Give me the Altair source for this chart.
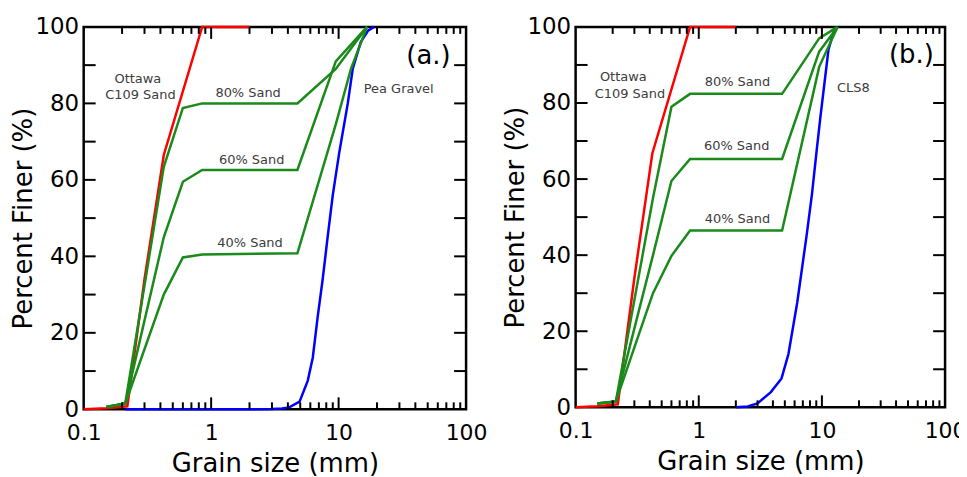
import altair as alt
import pandas as pd

# ---------------- Panel (a.) data ----------------
a_red_d = [0.1, 0.15, 0.22, 0.3, 0.425, 0.85, 2.0]
a_red_p = [0, 0.3, 0.8, 34, 66.5, 100, 100]

a_blue_d = [0.212, 2.0, 3.0, 3.6, 4.1, 4.94, 5.73, 6.27, 6.84, 7.5, 8.2, 9.0, 10.1, 11.8, 12.9, 14.9, 17.0, 19.0]
a_blue_p = [0, 0, 0.05, 0.2, 0.5, 2, 7.5, 13.5, 24, 34, 45, 56, 67, 80, 89, 96, 99, 100]

a_s80_d = [0.15, 0.212, 0.425, 0.6, 0.85, 4.75, 9.5, 16.7]
a_s80_p = [0.6, 1.5, 63.4, 78.8, 80, 80, 89, 100]
a_s60_d = [0.15, 0.212, 0.425, 0.6, 0.85, 4.75, 9.5, 16.7]
a_s60_p = [0.6, 1.5, 45, 59.5, 62.6, 62.6, 91, 100]
a_s40_d = [0.15, 0.212, 0.425, 0.6, 0.85, 4.75, 9.5, 12.5, 16.7]
a_s40_p = [0.6, 1.5, 30, 39.7, 40.5, 40.8, 74.5, 89, 100]

a_label_text = ["Ottawa", "C109 Sand", "80% Sand", "60% Sand", "40% Sand", "Pea Gravel"]
a_label_d = [0.266, 0.279, 1.95, 2.08, 2.02, 29.6]
a_label_p = [86.5, 82.2, 82.6, 65.1, 43.4, 83.8]
a_tag = "(a.)"

# ---------------- Panel (b.) data ----------------
b_red_d = [0.1, 0.15, 0.22, 0.3, 0.42, 0.85, 2.0]
b_red_p = [0, 0.3, 0.8, 34, 66.8, 100, 100]

b_blue_d = [2.0, 2.5, 3.0, 3.85, 4.7, 5.35, 6.3, 7.5, 8.3, 9.1, 9.7, 11.3, 12.8]
b_blue_p = [0, 0.2, 1, 4, 7.6, 14, 27.5, 45, 56, 68, 76, 94, 100]

b_s80_d = [0.15, 0.212, 0.425, 0.6, 0.85, 4.75, 9.5, 13.4]
b_s80_p = [1.0, 1.5, 55, 79, 82.4, 82.4, 97, 100]
b_s60_d = [0.15, 0.212, 0.425, 0.6, 0.85, 4.75, 9.5, 13.4]
b_s60_p = [1.0, 1.5, 40, 59.5, 65.3, 65.3, 93.5, 100]
b_s40_d = [0.15, 0.212, 0.425, 0.6, 0.85, 4.75, 9.5, 13.4]
b_s40_p = [1.0, 1.5, 30, 39.8, 46.5, 46.5, 89.5, 100]

b_label_text = ["Ottawa", "C109 Sand", "80% Sand", "60% Sand", "40% Sand", "CLS8"]
b_label_d = [0.244, 0.276, 2.06, 2.03, 2.06, 18.0]
b_label_p = [86.7, 82.3, 85.6, 68.6, 49.6, 83.9]
b_tag = "(b.)"

# ---------------- axis ticks ----------------
x_major_ticks = [1, 10]
x_minor_ticks = [0.2, 0.3, 0.4, 0.5, 0.6, 0.7, 0.8, 0.9,
                 2, 3, 4, 5, 6, 7, 8, 9,
                 20, 30, 40, 50, 60, 70, 80, 90]
y_ticks = [10, 20, 30, 40, 50, 60, 70, 80, 90]
x_label_values = [0.1, 1, 10, 100]
y_label_values = [0, 20, 40, 60, 80, 100]

RED = "#ff0000"
BLUE = "#0000ff"
GREEN = "#1a8a1a"
FONT = "DejaVu Sans"


def series_df(d, p, name):
    return pd.DataFrame({"d": d, "p": p, "series": name, "i": list(range(len(d)))})


X_AXIS = alt.Axis(values=x_label_values, format="~g", title="Grain size (mm)",
                  grid=False, ticks=False, tickSize=0, domain=False, labelFlush=False,
                  labelFontSize=22, labelPadding=13, labelColor="black", labelFont=FONT,
                  titleFontSize=26, titleFontWeight="normal", titleFont=FONT,
                  titleColor="black", titleY=54, titleBaseline="middle")
Y_AXIS = alt.Axis(values=y_label_values, title="Percent Finer (%)",
                  grid=False, ticks=False, tickSize=0, domain=False,
                  labelFontSize=23, labelPadding=5, labelColor="black", labelFont=FONT,
                  titleFontSize=26, titleFontWeight="normal", titleFont=FONT,
                  titleColor="black", titleX=-60, titleBaseline="middle")
XS = alt.Scale(type="log", domain=[0.1, 100], nice=False)
YS = alt.Scale(domain=[0, 100], nice=False)


def X():
    return alt.X("d:Q", scale=XS, axis=X_AXIS)


def Y():
    return alt.Y("p:Q", scale=YS, axis=Y_AXIS)


def panel(red, blue, greens, labels, tag, W, H):
    blue_layer = alt.Chart(blue).mark_line(color=BLUE, strokeWidth=2.5).encode(
        x=X(), y=Y(), order="i:Q")
    red_layer = alt.Chart(red).mark_line(color=RED, strokeWidth=2.5).encode(
        x=X(), y=Y(), order="i:Q")
    green_layer = alt.Chart(greens).mark_line(color=GREEN, strokeWidth=2.5).encode(
        x=X(), y=Y(), detail="series:N", order="i:Q")
    text_layer = alt.Chart(labels).mark_text(font=FONT, fontSize=13, color="#3c3c3c").encode(
        x=X(), y=Y(), text="label:N")
    tag_layer = alt.Chart(tag).mark_text(font=FONT, fontSize=26, color="black").encode(
        x=X(), y=Y(), text="label:N")

    xmaj = pd.DataFrame({"d": x_major_ticks})
    xmin = pd.DataFrame({"d": x_minor_ticks})
    yt = pd.DataFrame({"p": y_ticks})
    ticks = [
        alt.Chart(xmaj).mark_rule(color="black", strokeWidth=2).encode(
            x=X(), y=alt.value(H), y2=alt.value(H - 12)),
        alt.Chart(xmin).mark_rule(color="black", strokeWidth=2).encode(
            x=X(), y=alt.value(H), y2=alt.value(H - 7)),
        alt.Chart(xmaj).mark_rule(color="black", strokeWidth=2).encode(
            x=X(), y=alt.value(0), y2=alt.value(12)),
        alt.Chart(xmin).mark_rule(color="black", strokeWidth=2).encode(
            x=X(), y=alt.value(0), y2=alt.value(7)),
        alt.Chart(yt).mark_rule(color="black", strokeWidth=2).encode(
            y=Y(), x=alt.value(0), x2=alt.value(12)),
        alt.Chart(yt).mark_rule(color="black", strokeWidth=2).encode(
            y=Y(), x=alt.value(W), x2=alt.value(W - 12)),
    ]

    return alt.layer(blue_layer, red_layer, green_layer, text_layer, tag_layer, *ticks).properties(
        width=W, height=H
    )


a_red = series_df(a_red_d, a_red_p, "Ottawa C109 Sand")
a_blue = series_df(a_blue_d, a_blue_p, "Pea Gravel")
a_greens = pd.concat([series_df(a_s80_d, a_s80_p, "80% Sand"),
                      series_df(a_s60_d, a_s60_p, "60% Sand"),
                      series_df(a_s40_d, a_s40_p, "40% Sand")])
a_labels = pd.DataFrame({"label": a_label_text, "d": a_label_d, "p": a_label_p})
a_tag_df = pd.DataFrame({"label": [a_tag], "d": [50.7], "p": [92.4]})

b_red = series_df(b_red_d, b_red_p, "Ottawa C109 Sand")
b_blue = series_df(b_blue_d, b_blue_p, "CLS8")
b_greens = pd.concat([series_df(b_s80_d, b_s80_p, "80% Sand"),
                      series_df(b_s60_d, b_s60_p, "60% Sand"),
                      series_df(b_s40_d, b_s40_p, "40% Sand")])
b_labels = pd.DataFrame({"label": b_label_text, "d": b_label_d, "p": b_label_p})
b_tag_df = pd.DataFrame({"label": [b_tag], "d": [53.2], "p": [92.6]})

pa = panel(a_red, a_blue, a_greens, a_labels, a_tag_df, 384, 384)
pb = panel(b_red, b_blue, b_greens, b_labels, b_tag_df, 371, 382)

chart = alt.hconcat(pa, pb, spacing=12).properties(
    padding={"left": 1, "top": 5, "right": -9, "bottom": 0},
    background="white",
).configure_view(stroke="black", strokeWidth=2.5)

chart.save("out.html", embed_options={"renderer": "svg", "actions": False})
